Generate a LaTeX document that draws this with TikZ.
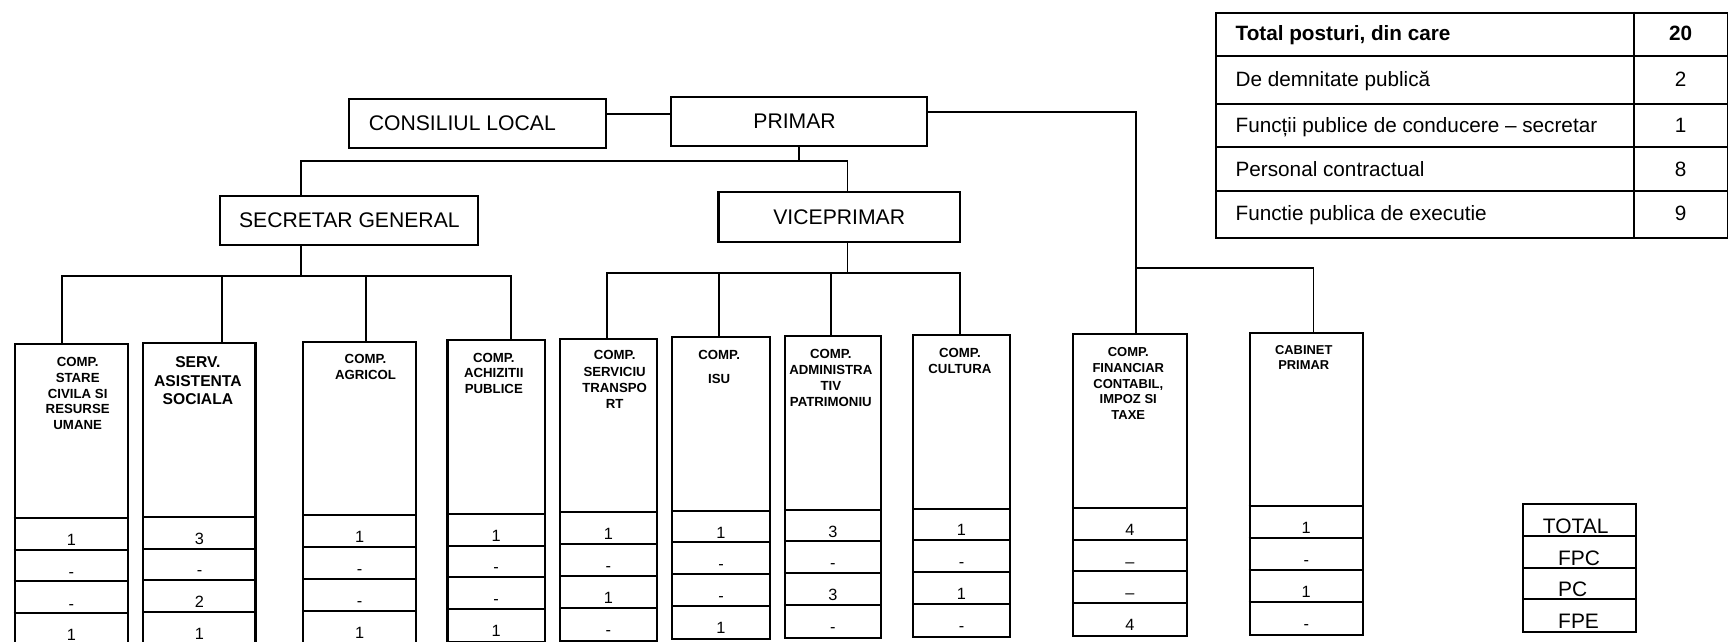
\documentclass[tikz,border=0pt]{standalone}
\usepackage{fontspec}
\setmainfont{Liberation Sans}
\usetikzlibrary{calc}
\begin{document}
\begin{tikzpicture}[x=1pt,y=-1pt,
  box/.style={draw, line width=1.9pt, inner sep=0pt, font=\fontsize{19.2}{23}\selectfont},
  ubox/.style={draw, line width=1.9pt, inner sep=0pt, anchor=north west},
  rowline/.style={line width=1.8pt},
  hdr/.style={anchor=north, align=center, inner sep=0pt, font=\fontsize{12}{14.3}\selectfont\bfseries},
  val/.style={anchor=base, inner sep=0pt, font=\fontsize{14.8}{17}\selectfont},
  conn/.style={line width=1.7pt},
  ttxt/.style={anchor=base west, inner sep=0pt, font=\fontsize{18.8}{22}\selectfont},
  tval/.style={anchor=base, inner sep=0pt, font=\fontsize{18.8}{22}\selectfont},
  leg/.style={anchor=base, inner sep=0pt, font=\fontsize{19}{22}\selectfont}]

\useasboundingbox (0,0) rectangle (1568,582);
\clip (0,0) rectangle (1568,582);

% upper boxes
\node[box, minimum width=233.2pt, minimum height=44.8pt] (cl) at (433.5,112.2) {CONSILIUL LOCAL\kern28pt};
\node[box, minimum width=232.7pt, minimum height=44.5pt] (primar) at (725,110) {PRIMAR\kern8pt};
\node[box, minimum width=219.1pt, minimum height=46pt] (vp) at (761.5,196.9) {VICEPRIMAR};
\node[box, minimum width=234pt, minimum height=44.4pt] (sg) at (317,200.1) {SECRETAR GENERAL};

% lower boxes
\foreach \n/\xl/\xr/\t in {b1/12.4/115.1/311.6, b2/129.2/230.9/310.6, b3/274.2/376.6/309, b4/405.1/493.5/307.9, b5/507.4/594.9/306.4, b6/609.2/697.4/304.9, b7/711.3/798.4/304, b8/827.6/915.4/303, b9/972.7/1076/302.5, b10/1133.1/1235.6/301}{
  \pgfmathsetmacro{\w}{\xr-\xl}
  \node[ubox, minimum width=\w pt, minimum height=274pt] (\n) at (\xl,\t) {};
  \foreach \d in {158.5,187.3,216,245}
    \draw[rowline] ($(\n.north west)+(0,\d)$) -- ($(\n.north east)+(0,\d)$);
}

% header texts
\node[hdr] (b1t) at (70.5,324) {COMP.\\STARE\\CIVILA SI\\RESURSE\\UMANE};
\node[hdr, font=\fontsize{14.2}{17.1}\selectfont\bfseries] (b2t) at (179.6,323.1) {SERV.\\ASISTENTA\\SOCIALA};
\node[hdr, font=\fontsize{12}{15}\selectfont\bfseries] (b3t) at (331.7,320.9) {COMP.\\AGRICOL};
\node[hdr, font=\fontsize{12}{14.4}\selectfont\bfseries] (b4t) at (448.1,320) {COMP.\\ACHIZITII\\PUBLICE};
\node[hdr, font=\fontsize{12}{14.8}\selectfont\bfseries] (b5t) at (557.7,317.9) {COMP.\\SERVICIU\\TRANSPO\\RT};
\node[hdr] (b6t) at (652.6,317.2) {COMP.\\[8pt]ISU};
\node[hdr, font=\fontsize{12}{14.6}\selectfont\bfseries] (b7t) at (753.9,316.3) {COMP.\\ADMINISTRA\\TIV\\PATRIMONIU};
\node[hdr, font=\fontsize{12}{14.2}\selectfont\bfseries] (b8t) at (871,315.7) {COMP.\\CULTURA};
\node[hdr, font=\fontsize{11.8}{14.4}\selectfont\bfseries] (b9t) at (1023.8,314.9) {COMP.\\FINANCIAR\\CONTABIL,\\IMPOZ SI\\TAXE};
\node[hdr, font=\fontsize{11.7}{13.6}\selectfont\bfseries] (b10t) at (1183,313.4) {CABINET\\PRIMAR};

% values
\foreach \n/\va/\vb/\vc/\vd in {b1/1/-/-/1, b2/3/-/2/1, b3/1/-/-/1, b4/1/-/-/1, b5/1/-/1/-, b6/1/-/-/1, b7/3/-/3/-, b8/1/-/1/-, b9/4/–/–/4, b10/1/-/1/-}{
  \node[val] (\n-1) at ($(\n.north)+(0,183.3)$) {\va};
  \node[val] (\n-2) at ($(\n.north)+(0,212)$) {\vb};
  \node[val] (\n-3) at ($(\n.north)+(0,241)$) {\vc};
  \node[val] (\n-4) at ($(\n.north)+(0,270)$) {\vd};
}

% connectors upper
\draw[conn] ([yshift=8.5pt]cl.east) -- ([yshift=8.5pt]cl.east -| primar.west);
\coordinate (pj) at (724.8,145.8);
\coordinate (pL) at (273,145.8);
\coordinate (pR) at (769,145.8);
\draw[conn] (primar.south -| pj) -- (pj);
\draw[conn] (sg.north -| pL) -- (pL) -- (pR) -- (vp.north -| pR);

% primar to financiar / cabinet
\coordinate (fj) at (1031,243.5);
\coordinate (cj) at (1191.9,243.5);
\draw[conn] ([yshift=8.7pt]primar.east) -| (b9.north -| fj);
\draw[conn] (fj) -- (cj) -- (b10.north -| cj);

% secretar general bus
\coordinate (sgj) at (273,250.5);
\coordinate (sL) at (56,250.5);
\coordinate (sR) at (463.9,250.5);
\coordinate (s2) at (201.4,250.5);
\coordinate (s3) at (332.3,250.5);
\draw[conn] (sg.south -| sgj) -- (sgj);
\draw[conn] (b1.north -| sL) -- (sL) -- (sR) -- (b4.north -| sR);
\draw[conn] (s2) -- (b2.north -| s2);
\draw[conn] (s3) -- (b3.north -| s3);

% viceprimar bus
\coordinate (vj) at (769,247.4);
\coordinate (vL) at (550.8,247.4);
\coordinate (vR) at (871,247.4);
\coordinate (v6) at (652.6,247.4);
\coordinate (v7) at (753.9,247.4);
\draw[conn] (vp.south -| vj) -- (vj);
\draw[conn] (b5.north -| vL) -- (vL) -- (vR) -- (b8.north -| vR);
\draw[conn] (v6) -- (b6.north -| v6);
\draw[conn] (v7) -- (b7.north -| v7);

% top-right table
\node[ubox, minimum width=464.3pt, minimum height=204.2pt] (tbl) at (1102.7,10.6) {};
\foreach \d in {39.8,83.8,122.5,162.7}
  \draw[rowline] ($(tbl.north west)+(0,\d)$) -- ($(tbl.north east)+(0,\d)$);
\draw[rowline] ($(tbl.north west)+(380.4,0)$) -- ($(tbl.south west)+(380.4,0)$);
\node[ttxt, font=\fontsize{18.8}{22}\selectfont\bfseries] (t1) at (1121,37) {Total posturi, din care};
\node[ttxt] (t2) at (1121,78.9) {De demnitate publică};
\node[ttxt] (t3) at (1121,120.2) {Funcții publice de conducere – secretar};
\node[ttxt] (t4) at (1121,159.7) {Personal contractual};
\node[ttxt] (t5) at (1121,200.5) {Functie publica de executie};
\node[tval, font=\fontsize{18.8}{22}\selectfont\bfseries] (n1) at (1525,37) {20};
\node[tval] (n2) at (1525,78.9) {2};
\node[tval] (n3) at (1525,120.2) {1};
\node[tval] (n4) at (1525,159.7) {8};
\node[tval] (n5) at (1525,200.5) {9};

% legend
\node[ubox, minimum width=102.5pt, minimum height=115.9pt] (lg) at (1381.3,456.7) {};
\foreach \d in {29.7,58.4,87.2}
  \draw[rowline] ($(lg.north west)+(0,\d)$) -- ($(lg.north east)+(0,\d)$);
\node[leg] (lg1) at (1429.7,484) {TOTAL};
\node[leg] (lg2) at (1432.8,512.7) {FPC};
\node[leg] (lg3) at (1427,541.4) {PC};
\node[leg] (lg4) at (1432.4,570.2) {FPE};
\end{tikzpicture}
\end{document}
